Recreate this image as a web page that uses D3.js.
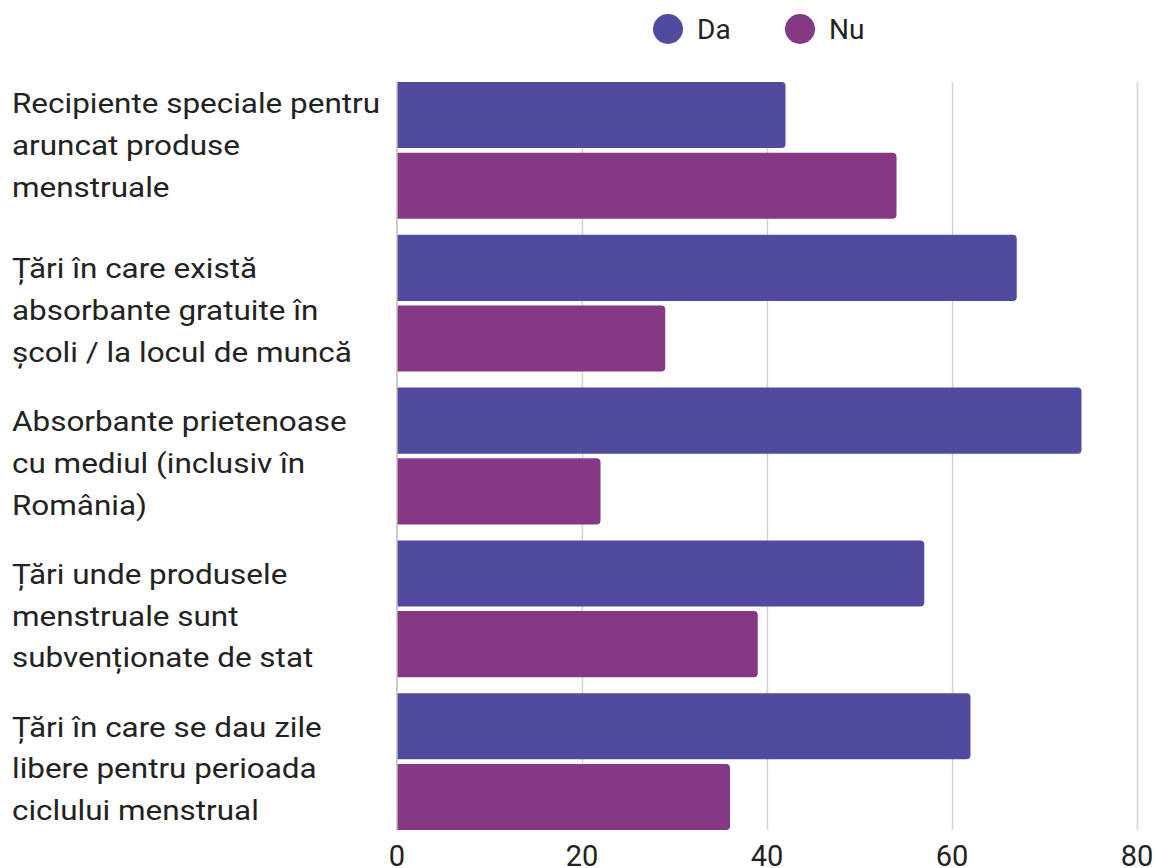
<!DOCTYPE html>
<html>
<head>
<meta charset="utf-8">
<script src="https://cdn.jsdelivr.net/npm/d3@7"></script>
<style>
  html, body { margin: 0; padding: 0; background: #fff; }
  svg { display: block; font-family: Roboto, "Noto Sans", sans-serif; }
</style>
</head>
<body>
<svg id="chart" width="1156" height="868"></svg>
<script>
const categories = [
  "Recipiente speciale pentru\naruncat produse\nmenstruale",
  "Țări în care există\nabsorbante gratuite în\nșcoli / la locul de muncă",
  "Absorbante prietenoase\ncu mediul (inclusiv în\nRomânia)",
  "Țări unde produsele\nmenstruale sunt\nsubvenționate de stat",
  "Țări în care se dau zile\nlibere pentru perioada\nciclului menstrual"
];
const seriesNames = ["Da", "Nu"];
const daValues = [42, 67, 74, 57, 62];
const nuValues = [54, 29, 22, 39, 36];
const xTicks = [0, 20, 40, 60, 80];
const colors = ["#514b9f", "#853984"];

(function () {
const svg = d3.select("#chart");
const pLeft = 397, pRight = 1137, pTop = 82, pBottom = 830;

const x = d3.scaleLinear().domain([0, 80]).range([pLeft, pRight]);
const y0 = d3.scaleBand().domain(d3.range(categories.length)).range([pTop, pBottom])
  .paddingInner(0.105).paddingOuter(0);
const y1 = d3.scaleBand().domain(seriesNames).range([0, y0.bandwidth()])
  .paddingInner(0.064).paddingOuter(0);

// gridlines
svg.append("g").selectAll("line").data(xTicks.slice(1)).join("line")
  .attr("x1", d => x(d) + 0.5).attr("x2", d => x(d) + 0.5)
  .attr("y1", pTop).attr("y2", pBottom)
  .attr("stroke", "#d4d4d4").attr("stroke-width", 1.5);

function barPath(x0, yT, w, h, r) {
  r = Math.min(r, w, h / 2);
  return `M${x0},${yT}H${x0 + w - r}Q${x0 + w},${yT} ${x0 + w},${yT + r}` +
         `V${yT + h - r}Q${x0 + w},${yT + h} ${x0 + w - r},${yT + h}H${x0}Z`;
}
const rows = categories.map((c, i) => ({ i, vals: [daValues[i], nuValues[i]] }));
const g = svg.append("g");
rows.forEach(row => {
  row.vals.forEach((v, j) => {
    const yy = y0(row.i) + y1(seriesNames[j]);
    g.append("path")
      .attr("d", barPath(x(0), yy, x(v) - x(0), y1.bandwidth(), 4))
      .attr("fill", colors[j]);
  });
});

svg.append("line")
  .attr("x1", pLeft).attr("x2", pLeft).attr("y1", pTop).attr("y2", pBottom)
  .attr("stroke", "#bdbdbd").attr("stroke-width", 1.5);

svg.append("g").selectAll("text").data(xTicks).join("text")
  .attr("x", d => x(d)).attr("y", 866)
  .attr("text-anchor", "middle")
  .attr("font-size", 29).attr("fill", "#222")
  .text(d => d);

// category labels (slightly wide lettering as in the reference)
const lineH = 41.8;
const labelNudge = [-12, 0, 0, 0, 0];
categories.forEach((c, i) => {
  const lines = c.split("\n");
  const cy = y0(i) + y0.bandwidth() / 2;
  const firstBase = cy - 25 + labelNudge[i];
  const t = svg.append("text").attr("font-size", 28).attr("fill", "#222")
    .attr("transform", "translate(12,0) scale(1.123,1)");
  lines.forEach((ln, k) => {
    t.append("tspan").attr("x", 0).attr("y", firstBase + k * lineH).text(ln);
  });
});

const legendPos = [{ cx: 668, tx: 697 }, { cx: 800, tx: 829 }];
seriesNames.forEach((s, j) => {
  svg.append("circle").attr("cx", legendPos[j].cx).attr("cy", 29).attr("r", 15)
    .attr("fill", colors[j]);
  svg.append("text").attr("x", legendPos[j].tx).attr("y", 38.5)
    .attr("font-size", 28).attr("fill", "#222").text(s);
});
})();
</script>
</body>
</html>
